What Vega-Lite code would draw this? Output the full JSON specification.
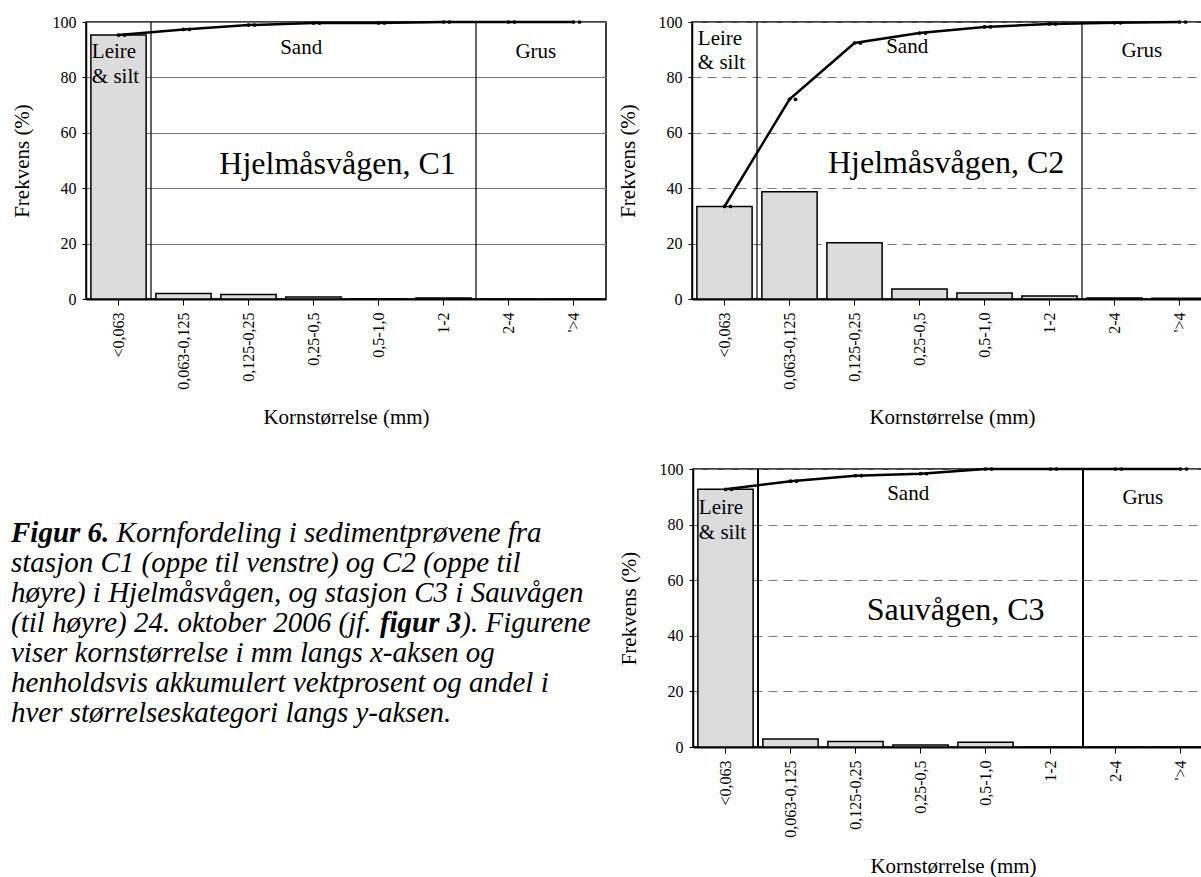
{
  "$schema": "https://vega.github.io/schema/vega-lite/v6.json",
  "background": "white",
  "padding": {"left": 10, "top": 13, "right": 0, "bottom": 0},
  "config": {
    "font": "Liberation Serif",
    "style": {"guide-label": {"font": "Liberation Serif"}, "guide-title": {"font": "Liberation Serif"}},
    "axis": {"labelFont": "Liberation Serif", "titleFont": "Liberation Serif", "labelFontSize": 16, "titleFontSize": 21, "titleFontWeight": "normal", "labelColor": "black", "titleColor": "black", "domainColor": "black", "tickColor": "black"}
  },
  "datasets": {
    "c1": [
      {"size": "<0,063", "freq": 95.3, "cum": 95.3},
      {"size": "0,063-0,125", "freq": 2.0, "cum": 97.3},
      {"size": "0,125-0,25", "freq": 1.6, "cum": 98.9},
      {"size": "0,25-0,5", "freq": 0.7, "cum": 99.6},
      {"size": "0,5-1,0", "freq": 0.05, "cum": 99.65},
      {"size": "1-2", "freq": 0.35, "cum": 100},
      {"size": "2-4", "freq": 0, "cum": 100},
      {"size": "'>4", "freq": 0, "cum": 100}
    ],
    "c2": [
      {"size": "<0,063", "freq": 33.4, "cum": 33.4},
      {"size": "0,063-0,125", "freq": 38.7, "cum": 72.1},
      {"size": "0,125-0,25", "freq": 20.3, "cum": 92.4},
      {"size": "0,25-0,5", "freq": 3.6, "cum": 96.0},
      {"size": "0,5-1,0", "freq": 2.2, "cum": 98.2},
      {"size": "1-2", "freq": 1.1, "cum": 99.3},
      {"size": "2-4", "freq": 0.4, "cum": 99.7},
      {"size": "'>4", "freq": 0.3, "cum": 100}
    ],
    "c3": [
      {"size": "<0,063", "freq": 92.7, "cum": 92.7},
      {"size": "0,063-0,125", "freq": 2.9, "cum": 95.6},
      {"size": "0,125-0,25", "freq": 2.0, "cum": 97.6},
      {"size": "0,25-0,5", "freq": 0.7, "cum": 98.3},
      {"size": "0,5-1,0", "freq": 1.7, "cum": 100},
      {"size": "1-2", "freq": 0, "cum": 100},
      {"size": "2-4", "freq": 0, "cum": 100},
      {"size": "'>4", "freq": 0, "cum": 100}
    ],
    "ann": [
      {"panel": "C1", "kind": "edge", "text": "Leire", "pos": 0.09, "val": 89.2},
      {"panel": "C1", "kind": "edge", "text": "& silt", "pos": 0.09, "val": 80.2},
      {"panel": "C1", "kind": "zone", "text": "Sand", "pos": 3.31, "val": 90.6},
      {"panel": "C1", "kind": "zone", "text": "Grus", "pos": 6.92, "val": 89.2},
      {"panel": "C1", "kind": "station", "text": "Hjelmåsvågen, C1", "pos": 3.87, "val": 48.6},
      {"panel": "C2", "kind": "edge", "text": "Leire", "pos": 0.09, "val": 93.9},
      {"panel": "C2", "kind": "edge", "text": "& silt", "pos": 0.09, "val": 85.2},
      {"panel": "C2", "kind": "zone", "text": "Sand", "pos": 3.31, "val": 90.9},
      {"panel": "C2", "kind": "zone", "text": "Grus", "pos": 6.92, "val": 89.7},
      {"panel": "C2", "kind": "station", "text": "Hjelmåsvågen, C2", "pos": 3.91, "val": 49.2},
      {"panel": "C3", "kind": "edge", "text": "Leire", "pos": 0.09, "val": 86.0},
      {"panel": "C3", "kind": "edge", "text": "& silt", "pos": 0.09, "val": 77.0},
      {"panel": "C3", "kind": "zone", "text": "Sand", "pos": 3.31, "val": 91.0},
      {"panel": "C3", "kind": "zone", "text": "Grus", "pos": 6.92, "val": 89.6},
      {"panel": "C3", "kind": "station", "text": "Sauvågen, C3", "pos": 4.04, "val": 49.4}
    ],
    "seps": [{"b": 1}, {"b": 6}],
    "caption": [
      {"line": 1, "seg": "b0", "text": "Figur 6."},
      {"line": 1, "seg": "i1", "text": "Kornfordeling i sedimentprøvene fra"},
      {"line": 2, "seg": "i0", "text": "stasjon C1 (oppe til venstre) og C2 (oppe til"},
      {"line": 3, "seg": "i0", "text": "høyre) i Hjelmåsvågen, og stasjon C3 i Sauvågen"},
      {"line": 4, "seg": "i0", "text": "(til høyre) 24. oktober 2006 (jf."},
      {"line": 4, "seg": "b4", "text": "figur 3"},
      {"line": 4, "seg": "i4", "text": "). Figurene"},
      {"line": 5, "seg": "i0", "text": "viser kornstørrelse i mm langs x-aksen og"},
      {"line": 6, "seg": "i0", "text": "henholdsvis akkumulert vektprosent og andel i"},
      {"line": 7, "seg": "i0", "text": "hver størrelseskategori langs y-aksen."}
    ]
  },
  "vconcat": [
    {
      "hconcat": [
        {
          "width": 520, "height": 277,
          "view": {"stroke": "black", "strokeWidth": 1.5},
          "layer": [
            {
              "data": {"name": "c1"},
              "encoding": {
                "x": {"field": "size", "type": "nominal", "sort": null, "scale": {"type": "band", "paddingInner": 0.15, "paddingOuter": 0.075},
                  "axis": {"title": "Kornstørrelse (mm)", "labelFont": "Liberation Serif", "titleFont": "Liberation Serif", "labelAngle": -90, "tickSize": 6, "labelPadding": 7, "titlePadding": 17, "domainWidth": 2, "grid": false}},
                "y": {"type": "quantitative", "scale": {"domain": [0, 100], "nice": false},
                  "axis": {"title": "Frekvens (%)", "labelFont": "Liberation Serif", "titleFont": "Liberation Serif", "values": [0, 20, 40, 60, 80, 100], "grid": true, "gridColor": "#7a7a7a", "gridWidth": 1, "tickSize": 4, "labelPadding": 6, "titlePadding": 20, "domainWidth": 1.5}}
              },
              "layer": [
                {"mark": {"type": "bar", "fill": "#dcdcdc", "stroke": "black", "strokeWidth": 1.5},
                 "encoding": {"y": {"field": "freq"}}},
                {"mark": {"type": "line", "color": "black", "strokeWidth": 2.5},
                 "encoding": {"y": {"field": "cum"}}},
                {"mark": {"type": "point", "filled": true, "color": "black", "size": 14, "opacity": 1},
                 "encoding": {"y": {"field": "cum"}}},
                {"mark": {"type": "point", "filled": true, "color": "black", "size": 14, "opacity": 1, "xOffset": 6},
                 "encoding": {"y": {"field": "cum"}}}
              ]
            },
            {
              "data": {"name": "seps"},
              "mark": {"type": "rule", "color": "black", "strokeWidth": 1.2},
              "encoding": {"x": {"field": "b", "type": "quantitative", "scale": {"domain": [0, 8], "nice": false, "zero": false}, "axis": null}}
            },
            {
              "data": {"name": "ann"},
              "transform": [{"filter": "datum.panel === 'C1'"}],
              "encoding": {
                "x": {"field": "pos", "type": "quantitative", "scale": {"domain": [0, 8], "nice": false, "zero": false}, "axis": null},
                "y": {"field": "val", "type": "quantitative", "scale": {"domain": [0, 100], "nice": false},
                  "axis": {"title": "Frekvens (%)", "labelFont": "Liberation Serif", "titleFont": "Liberation Serif", "values": [0, 20, 40, 60, 80, 100], "grid": true, "gridColor": "#7a7a7a", "gridWidth": 1, "tickSize": 4, "labelPadding": 6, "titlePadding": 20, "domainWidth": 1.5}},
                "text": {"field": "text"}
              },
              "layer": [
                {"transform": [{"filter": "datum.kind === 'edge'"}], "mark": {"type": "text", "align": "left", "baseline": "middle", "fontSize": 21, "font": "Liberation Serif", "color": "black"}},
                {"transform": [{"filter": "datum.kind === 'zone'"}], "mark": {"type": "text", "align": "center", "baseline": "middle", "fontSize": 21, "font": "Liberation Serif", "color": "black"}},
                {"transform": [{"filter": "datum.kind === 'station'"}], "mark": {"type": "text", "align": "center", "baseline": "middle", "fontSize": 32, "font": "Liberation Serif", "color": "black"}}
              ]
            }
          ],
          "resolve": {"scale": {"x": "independent"}}
        },
        {
          "width": 520, "height": 277,
          "view": {"stroke": "black", "strokeWidth": 1.5},
          "layer": [
            {
              "data": {"name": "c2"},
              "encoding": {
                "x": {"field": "size", "type": "nominal", "sort": null, "scale": {"type": "band", "paddingInner": 0.15, "paddingOuter": 0.075},
                  "axis": {"title": "Kornstørrelse (mm)", "labelFont": "Liberation Serif", "titleFont": "Liberation Serif", "labelAngle": -90, "tickSize": 6, "labelPadding": 7, "titlePadding": 17, "domainWidth": 2, "grid": false}},
                "y": {"type": "quantitative", "scale": {"domain": [0, 100], "nice": false},
                  "axis": {"title": "Frekvens (%)", "labelFont": "Liberation Serif", "titleFont": "Liberation Serif", "values": [0, 20, 40, 60, 80, 100], "grid": true, "gridColor": "#7a7a7a", "gridWidth": 1, "gridDash": [9, 6], "tickSize": 4, "labelPadding": 6, "titlePadding": 20, "domainWidth": 1.5}}
              },
              "layer": [
                {"mark": {"type": "bar", "fill": "#dcdcdc", "stroke": "black", "strokeWidth": 1.5},
                 "encoding": {"y": {"field": "freq"}}},
                {"mark": {"type": "line", "color": "black", "strokeWidth": 2.5},
                 "encoding": {"y": {"field": "cum"}}},
                {"mark": {"type": "point", "filled": true, "color": "black", "size": 14, "opacity": 1},
                 "encoding": {"y": {"field": "cum"}}},
                {"mark": {"type": "point", "filled": true, "color": "black", "size": 14, "opacity": 1, "xOffset": 6},
                 "encoding": {"y": {"field": "cum"}}}
              ]
            },
            {
              "data": {"name": "seps"},
              "mark": {"type": "rule", "color": "black", "strokeWidth": 1.2},
              "encoding": {"x": {"field": "b", "type": "quantitative", "scale": {"domain": [0, 8], "nice": false, "zero": false}, "axis": null}}
            },
            {
              "data": {"name": "ann"},
              "transform": [{"filter": "datum.panel === 'C2'"}],
              "encoding": {
                "x": {"field": "pos", "type": "quantitative", "scale": {"domain": [0, 8], "nice": false, "zero": false}, "axis": null},
                "y": {"field": "val", "type": "quantitative", "scale": {"domain": [0, 100], "nice": false},
                  "axis": {"title": "Frekvens (%)", "labelFont": "Liberation Serif", "titleFont": "Liberation Serif", "values": [0, 20, 40, 60, 80, 100], "grid": true, "gridColor": "#7a7a7a", "gridWidth": 1, "gridDash": [9, 6], "tickSize": 4, "labelPadding": 6, "titlePadding": 20, "domainWidth": 1.5}},
                "text": {"field": "text"}
              },
              "layer": [
                {"transform": [{"filter": "datum.kind === 'edge'"}], "mark": {"type": "text", "align": "left", "baseline": "middle", "fontSize": 21, "font": "Liberation Serif", "color": "black"}},
                {"transform": [{"filter": "datum.kind === 'zone'"}], "mark": {"type": "text", "align": "center", "baseline": "middle", "fontSize": 21, "font": "Liberation Serif", "color": "black"}},
                {"transform": [{"filter": "datum.kind === 'station'"}], "mark": {"type": "text", "align": "center", "baseline": "middle", "fontSize": 32, "font": "Liberation Serif", "color": "black"}}
              ]
            }
          ],
          "resolve": {"scale": {"x": "independent"}}
        }
      ],
      "spacing": 9
    },
    {
      "hconcat": [
        {
          "width": 522, "height": 286,
          "view": {"stroke": null},
          "data": {"name": "caption"},
          "encoding": {
            "x": {"datum": 0, "type": "quantitative", "scale": {"domain": [0, 1]}, "axis": null},
            "y": {"field": "line", "type": "quantitative", "scale": {"domain": [-1.133, 8.4], "reverse": true, "nice": false, "zero": false}, "axis": null},
            "text": {"field": "text"}
          },
          "layer": [
            {"transform": [{"filter": "datum.seg === 'i0'"}], "mark": {"type": "text", "align": "left", "baseline": "middle", "font": "Liberation Serif", "fontSize": 29, "fontStyle": "italic", "color": "black", "dx": -75}},
            {"transform": [{"filter": "datum.seg === 'b0'"}], "mark": {"type": "text", "align": "left", "baseline": "middle", "font": "Liberation Serif", "fontSize": 29, "fontStyle": "italic", "fontWeight": "bold", "color": "black", "dx": -75}},
            {"transform": [{"filter": "datum.seg === 'i1'"}], "mark": {"type": "text", "align": "left", "baseline": "middle", "font": "Liberation Serif", "fontSize": 29, "fontStyle": "italic", "color": "black", "dx": 30.6}},
            {"transform": [{"filter": "datum.seg === 'b4'"}], "mark": {"type": "text", "align": "left", "baseline": "middle", "font": "Liberation Serif", "fontSize": 29, "fontStyle": "italic", "fontWeight": "bold", "color": "black", "dx": 293.9}},
            {"transform": [{"filter": "datum.seg === 'i4'"}], "mark": {"type": "text", "align": "left", "baseline": "middle", "font": "Liberation Serif", "fontSize": 29, "fontStyle": "italic", "color": "black", "dx": 375.3}}
          ]
        },
        {
          "width": 520, "height": 278,
          "view": {"stroke": "black", "strokeWidth": 1.5},
          "layer": [
            {
              "data": {"name": "c3"},
              "encoding": {
                "x": {"field": "size", "type": "nominal", "sort": null, "scale": {"type": "band", "paddingInner": 0.15, "paddingOuter": 0.075},
                  "axis": {"title": "Kornstørrelse (mm)", "labelFont": "Liberation Serif", "titleFont": "Liberation Serif", "labelAngle": -90, "tickSize": 6, "labelPadding": 7, "titlePadding": 18, "domainWidth": 2, "grid": false}},
                "y": {"type": "quantitative", "scale": {"domain": [0, 100], "nice": false},
                  "axis": {"title": "Frekvens (%)", "labelFont": "Liberation Serif", "titleFont": "Liberation Serif", "values": [0, 20, 40, 60, 80, 100], "grid": true, "gridColor": "#7a7a7a", "gridWidth": 1, "gridDash": [9, 6], "tickSize": 4, "labelPadding": 6, "titlePadding": 20, "domainWidth": 1.5}}
              },
              "layer": [
                {"mark": {"type": "bar", "fill": "#dcdcdc", "stroke": "black", "strokeWidth": 1.5},
                 "encoding": {"y": {"field": "freq"}}},
                {"mark": {"type": "line", "color": "black", "strokeWidth": 2.5},
                 "encoding": {"y": {"field": "cum"}}},
                {"mark": {"type": "point", "filled": true, "color": "black", "size": 14, "opacity": 1},
                 "encoding": {"y": {"field": "cum"}}},
                {"mark": {"type": "point", "filled": true, "color": "black", "size": 14, "opacity": 1, "xOffset": 6},
                 "encoding": {"y": {"field": "cum"}}}
              ]
            },
            {
              "data": {"name": "seps"},
              "mark": {"type": "rule", "color": "black", "strokeWidth": 2},
              "encoding": {"x": {"field": "b", "type": "quantitative", "scale": {"domain": [0, 8], "nice": false, "zero": false}, "axis": null}}
            },
            {
              "data": {"name": "ann"},
              "transform": [{"filter": "datum.panel === 'C3'"}],
              "encoding": {
                "x": {"field": "pos", "type": "quantitative", "scale": {"domain": [0, 8], "nice": false, "zero": false}, "axis": null},
                "y": {"field": "val", "type": "quantitative", "scale": {"domain": [0, 100], "nice": false},
                  "axis": {"title": "Frekvens (%)", "labelFont": "Liberation Serif", "titleFont": "Liberation Serif", "values": [0, 20, 40, 60, 80, 100], "grid": true, "gridColor": "#7a7a7a", "gridWidth": 1, "gridDash": [9, 6], "tickSize": 4, "labelPadding": 6, "titlePadding": 20, "domainWidth": 1.5}},
                "text": {"field": "text"}
              },
              "layer": [
                {"transform": [{"filter": "datum.kind === 'edge'"}], "mark": {"type": "text", "align": "left", "baseline": "middle", "fontSize": 21, "font": "Liberation Serif", "color": "black"}},
                {"transform": [{"filter": "datum.kind === 'zone'"}], "mark": {"type": "text", "align": "center", "baseline": "middle", "fontSize": 21, "font": "Liberation Serif", "color": "black"}},
                {"transform": [{"filter": "datum.kind === 'station'"}], "mark": {"type": "text", "align": "center", "baseline": "middle", "fontSize": 32, "font": "Liberation Serif", "color": "black"}}
              ]
            }
          ],
          "resolve": {"scale": {"x": "independent"}}
        }
      ],
      "spacing": 9
    }
  ],
  "spacing": 31
}
